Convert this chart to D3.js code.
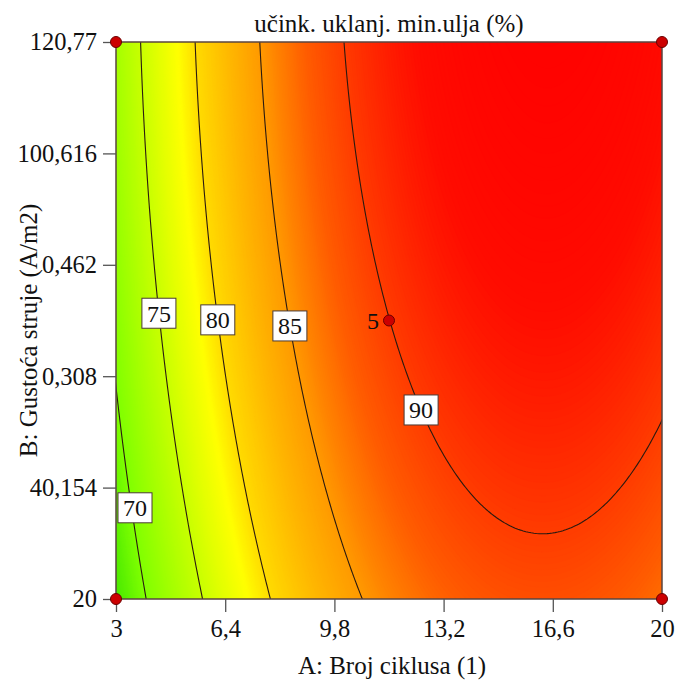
<!DOCTYPE html>
<html>
<head>
<meta charset="utf-8">
<script src="https://cdn.jsdelivr.net/npm/d3@7"></script>
<style>
  html, body { margin: 0; padding: 0; background: #fff; }
  text { font-family: "Liberation Serif", "Times New Roman", serif; fill: #111; }
</style>
</head>
<body>
<div id="chart"></div>
<script>
// ---------- data ----------
const chartTitle = "učink. uklanj. min.ulja (%)";
const xTitle = "A: Broj ciklusa (1)";
const yTitle = "B: Gustoća struje (A/m2)";
const xDomain = [3, 20];
const yDomain = [20, 120.77];
const xTicks = [3, 6.4, 9.8, 13.2, 16.6, 20];
const xTickLabels = ["3", "6,4", "9,8", "13,2", "16,6", "20"];
const yTicks = [20, 40.154, 60.308, 80.462, 100.616, 120.77];
const yTickLabels = ["20", "40,154", "0,308", "0,462", "100,616", "120,77"];
// quadratic response-surface model in coded units: Intercept, A, B, AB, A², B²
const modelTerms = ["Intercept", "A", "B", "AB", "A2", "B2"];
const modelCoefficients = [89.97, 10.27, 2.95, 0.2, -8.99, -0.95];
const contourLevels = [70, 75, 80, 85, 90];
const contourLabelB = [36.5, 71.7, 70.5, 69.4, 54.2];
const designPointsA = [3, 3, 20, 20, 11.5];
const designPointsB = [20, 120.77, 20, 120.77, 70.385];
const designPointLabels = ["", "", "", "", "5"];
const colorStops = [66, 70, 75, 78.5, 80, 85, 88, 90, 93, 95.5];
const colorValues = ["#33e000", "#80ff00", "#c8ff00", "#ffff00", "#ffdc00", "#ff9a00", "#ff5c00", "#ff3c00", "#ff0c00", "#ff0000"];

// ---------- setup ----------
const W = 677, H = 681;
const pL = 116, pR = 662, pT = 42, pB = 599;
const svg = d3.select("#chart").append("svg").attr("width", W).attr("height", H);
const x = d3.scaleLinear().domain(xDomain).range([pL, pR]);
const y = d3.scaleLinear().domain(yDomain).range([pB, pT]);
const color = d3.scaleLinear().domain(colorStops).range(colorValues).clamp(true);

const aMid = (xDomain[0] + xDomain[1]) / 2, aHalf = (xDomain[1] - xDomain[0]) / 2;
const bMid = (yDomain[0] + yDomain[1]) / 2, bHalf = (yDomain[1] - yDomain[0]) / 2;
function model(A, B) {
  const a = (A - aMid) / aHalf, b = (B - bMid) / bHalf;
  const c = modelCoefficients;
  return c[0] + c[1]*a + c[2]*b + c[3]*a*b + c[4]*a*a + c[5]*b*b;
}

// grid over a slightly extended domain so contour borders fall outside the clip
const n = 220, m = 220;
const gx = d3.scaleLinear().domain([0, n]).range([xDomain[0] - 0.6, xDomain[1] + 0.6]);
const gy = d3.scaleLinear().domain([0, m]).range([yDomain[1] + 3.5, yDomain[0] - 3.5]);
const values = new Array(n * m);
for (let j = 0; j < m; j++) {
  for (let i = 0; i < n; i++) {
    values[j * n + i] = model(gx(i + 0.5), gy(j + 0.5));
  }
}
const proj = d3.geoTransform({
  point: function(px, py) { this.stream.point(x(gx(px)), y(gy(py))); }
});
const path = d3.geoPath(proj);

svg.append("clipPath").attr("id", "plotclip")
  .append("rect").attr("x", pL).attr("y", pT).attr("width", pR - pL).attr("height", pB - pT);

const plot = svg.append("g").attr("clip-path", "url(#plotclip)");

// filled gradient via fine contour bands
const fineThresholds = d3.range(60, 97, 0.1);
const bands = d3.contours().size([n, m]).thresholds(fineThresholds)(values);
plot.append("g").selectAll("path").data(bands).join("path")
  .attr("d", path)
  .attr("fill", d => color(d.value + 0.05))
  .attr("stroke", d => color(d.value + 0.05))
  .attr("stroke-width", 0.6);

// contour lines
const lines = d3.contours().size([n, m]).thresholds(contourLevels)(values);
plot.append("g").selectAll("path").data(lines).join("path")
  .attr("d", path)
  .attr("fill", "none")
  .attr("stroke", "#2a1a10")
  .attr("stroke-width", 1.1);

// frame
svg.append("rect").attr("x", pL).attr("y", pT).attr("width", pR - pL).attr("height", pB - pT)
  .attr("fill", "none").attr("stroke", "#5a4540").attr("stroke-width", 1.5);

// axes
const tickFont = 24.5, titleFont = 25;
const yAxis = svg.append("g").attr("transform", `translate(${pL},0)`)
  .call(d3.axisLeft(y).tickValues(yTicks).tickFormat((d, i) => yTickLabels[i]).tickSize(13).tickPadding(6));
const xAxis = svg.append("g").attr("transform", `translate(0,${pB})`)
  .call(d3.axisBottom(x).tickValues(xTicks).tickFormat((d, i) => xTickLabels[i]).tickSize(13).tickPadding(8));
[yAxis, xAxis].forEach(g => {
  g.attr("font-family", "Liberation Serif").attr("font-size", tickFont);
  g.select(".domain").remove();
  g.selectAll(".tick line").attr("stroke", "#555").attr("stroke-width", 1.3);
  g.selectAll(".tick text").attr("font-size", tickFont).attr("fill", "#111");
});

// titles
svg.append("text").attr("x", (pL + pR) / 2).attr("y", 32).attr("text-anchor", "middle")
  .attr("font-size", titleFont).text(chartTitle);
svg.append("text").attr("x", (pL + pR) / 2 + 3).attr("y", 674).attr("text-anchor", "middle")
  .attr("font-size", titleFont).text(xTitle);
svg.append("text").attr("transform", `translate(37,${(pT + pB) / 2 + 10}) rotate(-90)`).attr("text-anchor", "middle")
  .attr("font-size", titleFont).text(yTitle);

// contour labels
function solveA(level, B) {
  let lo = xDomain[0], hi = 14;
  for (let k = 0; k < 60; k++) {
    const mid = (lo + hi) / 2;
    if (model(mid, B) < level) lo = mid; else hi = mid;
  }
  return (lo + hi) / 2;
}
const labelG = svg.append("g");
contourLevels.forEach((lv, i) => {
  const B = contourLabelB[i];
  const A = solveA(lv, B);
  let cx = x(A);
  const cy = y(B);
  if (cx - 17 < pL + 2) cx = pL + 19;
  const g = labelG.append("g").attr("transform", `translate(${cx},${cy})`);
  g.append("rect").attr("x", -17).attr("y", -15).attr("width", 34).attr("height", 30)
    .attr("fill", "#fff").attr("stroke", "#4a3a35").attr("stroke-width", 1);
  g.append("text").attr("text-anchor", "middle").attr("dy", "0.35em").attr("font-size", 24).text(lv);
});

// design points
const pts = svg.append("g");
designPointsA.forEach((A, i) => {
  const B = designPointsB[i];
  pts.append("circle").attr("cx", x(A)).attr("cy", y(B)).attr("r", 5.5)
    .attr("fill", "#cc0000").attr("stroke", "#6a0000").attr("stroke-width", 1);
  if (designPointLabels[i]) {
    pts.append("text").attr("x", x(A) - 10).attr("y", y(B)).attr("dy", "0.35em")
      .attr("text-anchor", "end").attr("font-size", 24).text(designPointLabels[i]);
  }
});
</script>
</body>
</html>
